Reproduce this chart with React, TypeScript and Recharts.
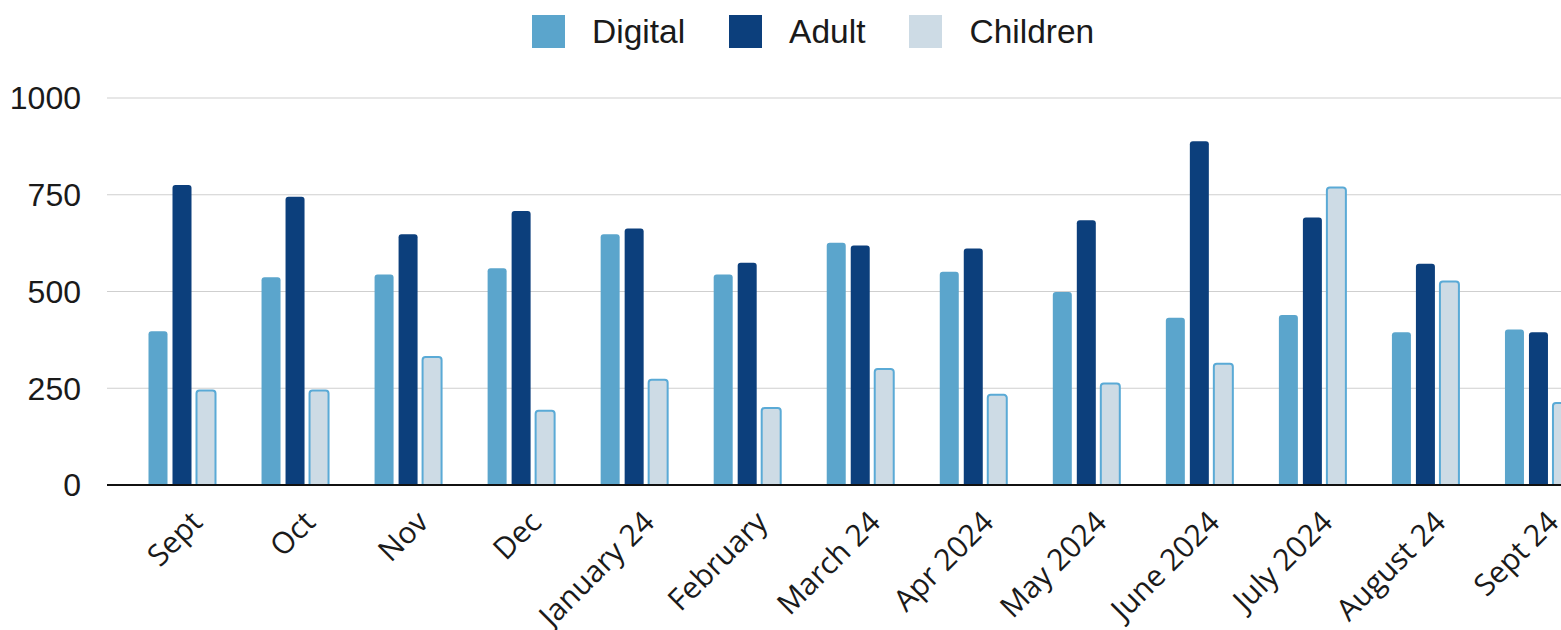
import { BarChart, Bar, XAxis, YAxis, CartesianGrid } from 'recharts';

// Monthly visits by collection

const months = [
  'Sept',
  'Oct',
  'Nov',
  'Dec',
  'January 24',
  'February',
  'March 24',
  'Apr 2024',
  'May 2024',
  'June 2024',
  'July 2024',
  'August 24',
  'Sept 24',
];

const digital = [397, 537, 544, 560, 648, 544, 626, 551, 499, 432, 439, 395, 402];
const adult = [775, 745, 648, 708, 663, 574, 619, 611, 684, 888, 691, 572, 395];
const children = [244, 244, 331, 192, 272, 199, 300, 233, 262, 313, 769, 526, 212];

const yTicks = [0, 250, 500, 750, 1000];

const series = [
  { key: 'digital', name: 'Digital', fill: '#5ba5cc', stroke: 'none' },
  { key: 'adult', name: 'Adult', fill: '#0c3f7c', stroke: 'none' },
  { key: 'children', name: 'Children', fill: '#cddbe5', stroke: '#5aaad6' },
];

const chartData = months.map((month, i) => ({
  month,
  digital: digital[i],
  adult: adult[i],
  children: children[i],
}));

const AngledTick = ({ x, y, payload }: any) => {
  const tx = x + 22;
  const ty = y + 31;
  return (
    <text
      x={tx}
      y={ty}
      transform={`rotate(-45 ${tx} ${ty})`}
      textAnchor="end"
      fontFamily="'Open Sans', sans-serif"
      fontSize={30}
      fill="#1a1a1a"
    >
      {payload.value}
    </text>
  );
};

export default function App() {
  return (
    <div
      style={{
        position: 'absolute',
        left: 0,
        top: 0,
        width: 1561,
        height: 630,
        overflow: 'hidden',
        background: '#fff',
      }}
    >
      <div
        style={{
          position: 'absolute',
          left: 532,
          top: 15,
          display: 'flex',
          alignItems: 'center',
          fontFamily: "'Liberation Sans', Arial, sans-serif",
          fontSize: 33.5,
          color: '#1a1a1a',
          lineHeight: '33px',
          whiteSpace: 'nowrap',
        }}
      >
        {series.map((s) => (
          <div key={s.key} style={{ display: 'flex', alignItems: 'center', marginRight: 44 }}>
            <div style={{ width: 33, height: 33, background: s.fill, marginRight: 27 }} />
            <span>{s.name}</span>
          </div>
        ))}
      </div>
      <BarChart
        width={1600}
        height={630}
        data={chartData}
        margin={{ top: 98, right: 5, bottom: 0, left: 0 }}
        barGap={5}
        barCategoryGap={0}
      >
        <CartesianGrid vertical={false} stroke="#cfcfcf" />
        <XAxis
          dataKey="month"
          interval={0}
          padding={{ left: 18.5, right: 0 }}
          height={145}
          tickLine={false}
          axisLine={{ stroke: '#111', strokeWidth: 2 }}
          tick={<AngledTick />}
        />
        <YAxis
          width={107}
          domain={[0, 1000]}
          ticks={yTicks}
          axisLine={false}
          tickLine={false}
          tickMargin={20}
          tick={{ fontSize: 32, fill: '#1a1a1a', fontFamily: "'Liberation Sans', Arial, sans-serif" }}
        />
        {series.map((s) => (
          <Bar
            key={s.key}
            dataKey={s.key}
            name={s.name}
            fill={s.fill}
            stroke={s.stroke}
            strokeWidth={s.stroke === 'none' ? 0 : 2}
            barSize={19}
            radius={[3, 3, 0, 0]}
            isAnimationActive={false}
          />
        ))}
      </BarChart>
    </div>
  );
}
